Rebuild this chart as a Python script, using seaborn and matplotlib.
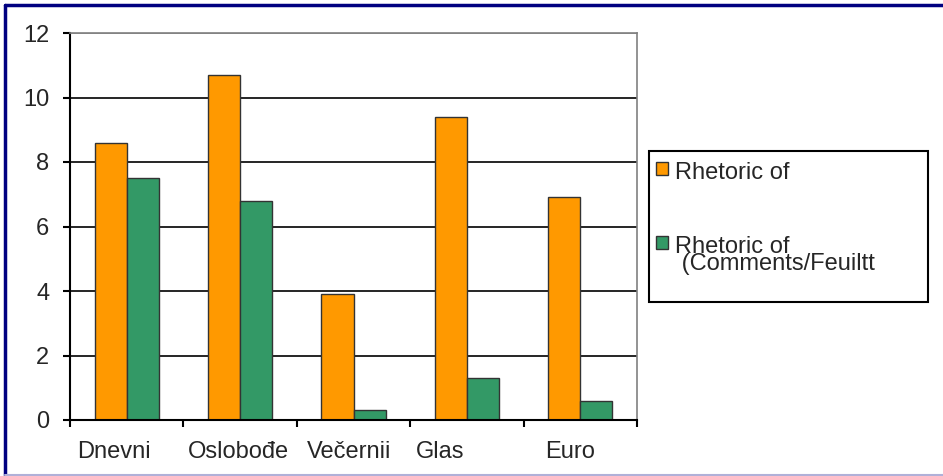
import matplotlib
matplotlib.use("Agg")
import matplotlib.pyplot as plt
import matplotlib.transforms as mtransforms
from matplotlib.patches import Rectangle, Patch
from matplotlib.lines import Line2D
import seaborn as sns
import pandas as pd

categories = ["Dnevni", "Oslobođe", "Večernii", "Glas", "Euro"]
series_names = ["Rhetoric of", "Rhetoric of\n (Comments/Feuiltt"]
series1 = [8.6, 10.7, 3.9, 9.4, 6.9]
series2 = [7.5, 6.8, 0.3, 1.3, 0.6]
yticks = [0, 2, 4, 6, 8, 10, 12]
colors = ["#FF9900", "#339966"]

df = pd.DataFrame({
    "category": categories * 2,
    "series": [series_names[0]] * 5 + [series_names[1]] * 5,
    "value": series1 + series2,
})

sns.set_theme(style="white")
plt.rcParams["font.family"] = ["Liberation Sans", "DejaVu Sans"]

FS = 17
W, H = 943, 476
fig = plt.figure(figsize=(W / 100, H / 100), dpi=100)
ax = fig.add_axes([70 / W, 1 - 420 / H, (637 - 70) / W, (420 - 33) / H])

sns.barplot(data=df, x="category", y="value", hue="series", order=categories,
            hue_order=series_names, palette=colors, width=0.565, gap=0,
            edgecolor="#333333", linewidth=1, saturation=1, ax=ax, legend=False)

ax.set_xlim(-0.5, len(categories) - 0.5)
ax.set_ylim(0, 12)
ax.set_yticks(yticks)
ax.set_yticklabels([str(t) for t in yticks], fontsize=FS)
ax.set_xlabel("")
ax.set_ylabel("")

# category boundary ticks (major) and labels at centers (minor)
ax.set_xticks([i - 0.5 for i in range(len(categories) + 1)])
ax.set_xticklabels([])
ax.set_xticks(range(len(categories)), minor=True)
ax.set_xticklabels(categories, minor=True, fontsize=FS)
ax.tick_params(axis="x", which="major", direction="out", length=5, width=1.5, color="black", bottom=True)
ax.tick_params(axis="x", which="minor", length=0, pad=15)
ax.tick_params(axis="y", direction="out", length=5, width=1.5, color="black", left=True, pad=10)

offsets_px = [-13, -2, -4, -27, -10]
for lab, dx in zip(ax.get_xticklabels(minor=True), offsets_px):
    lab.set_transform(lab.get_transform() + mtransforms.ScaledTranslation(dx / 100, 0, fig.dpi_scale_trans))

ax.yaxis.grid(True, color="black", linewidth=1.2)
ax.set_axisbelow(True)
gls = ax.get_ygridlines()
gls[-1].set_color("#808080")

for side in ["left", "bottom"]:
    ax.spines[side].set_color("black")
    ax.spines[side].set_linewidth(1.5)
for side in ["top", "right"]:
    ax.spines[side].set_color("#808080")
    ax.spines[side].set_linewidth(1.2)
ax.spines["top"].set_visible(True)
ax.spines["right"].set_visible(True)

# legend
handles = [Patch(facecolor=c, edgecolor="#333333", linewidth=1) for c in colors]
leg = fig.legend(handles, series_names, loc="upper left",
                 bbox_to_anchor=(656 / W, 1 - 162 / H), frameon=False,
                 fontsize=FS, handlelength=0.5, handleheight=0.45,
                 handletextpad=0.3, labelspacing=2.2, borderpad=0, borderaxespad=0)
for t in leg.get_texts():
    t.set_linespacing(0.68)
for col in leg._legend_handle_box.get_children():
    for hp in col.get_children():
        hp.align = "top"
fig.add_artist(Rectangle((649 / W, 1 - 302 / H), (928 - 649) / W, (302 - 151) / H,
                         transform=fig.transFigure, fill=False, edgecolor="black", linewidth=1.5))

# figure border
fig.add_artist(Line2D([5 / W, 1], [1 - 4.5 / H, 1 - 4.5 / H], transform=fig.transFigure, color="#000080", linewidth=2.5))
fig.add_artist(Line2D([5 / W, 5 / W], [1 - 4.5 / H, 1.5 / H], transform=fig.transFigure, color="#000080", linewidth=2.5))
fig.add_artist(Line2D([5 / W, 1], [1.2 / H, 1.2 / H], transform=fig.transFigure, color="#B0B0D8", linewidth=1.5))

fig.savefig("out.png", dpi=100, facecolor="white")
